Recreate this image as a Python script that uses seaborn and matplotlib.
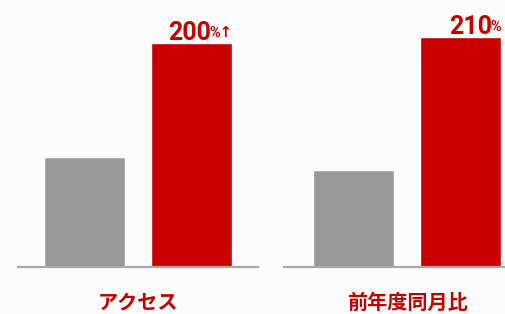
import matplotlib
matplotlib.use("Agg")
import matplotlib.pyplot as plt
import seaborn as sns
import pandas as pd

sns.set_style("white")
plt.rcParams['font.family'] = ['Noto Sans CJK JP', 'DejaVu Sans']

# data (bar heights, arbitrary units)
bars = ["前", "今"]
access_values = [110, 224]
yoy_values = [97, 230]
panel_titles = ["アクセス", "前年度同月比"]
top_numbers = ["200", "210"]
top_suffixes = ["%↑", "%"]

RED = "#C80000"
GRAY = "#999999"
LINE = "#AAAAAA"
BG = "#FCFCFC"

W, H = 506, 314
fig = plt.figure(figsize=(W / 100, H / 100), dpi=100, facecolor=BG)

panels = [
    (18, 258, (-0.621, 1.621), access_values),
    (284, 506, (-0.65, 1.425), yoy_values),
]
base_y = 267

for i, (x0, x1, xl, vals) in enumerate(panels):
    ax = fig.add_axes([x0 / W, (H - base_y) / H, (x1 - x0) / W, base_y / H])
    ax.set_facecolor("none")
    df = pd.DataFrame({"bar": bars, "v": vals})
    sns.barplot(data=df, x="bar", y="v", hue="bar", palette=[GRAY, RED],
                width=0.757, legend=False, ax=ax, saturation=1)
    ax.set_xlim(*xl)
    ax.set_ylim(0, base_y)
    for s in ["top", "right", "left"]:
        ax.spines[s].set_visible(False)
    ax.spines["bottom"].set_color(LINE)
    ax.spines["bottom"].set_linewidth(1.6)
    ax.set_xticks([])
    ax.set_yticks([])
    ax.set_xlabel("")
    ax.set_ylabel("")
    red_right = 1 + 0.757 / 2
    t = ax.annotate(top_suffixes[i], xy=(red_right, vals[1]), xycoords="data",
                    xytext=(0, 4.5), textcoords="offset points",
                    ha="right", va="baseline", color=RED, fontsize=10.5,
                    fontweight="bold", family=["Roboto", "DejaVu Sans"])
    fig.canvas.draw()
    bb = t.get_window_extent()
    ax.annotate(top_numbers[i], xy=(bb.x0 + 1.5, bb.y0), xycoords="figure pixels",
                ha="right", va="baseline", color=RED, fontsize=18,
                fontweight="bold", family=["Roboto", "DejaVu Sans"],
                annotation_clip=False)
    ax.text(0.5, -35, panel_titles[i], ha="center", va="center",
            transform=ax.transData, color=RED, fontsize=14.5, fontweight="bold")

fig.savefig("out.png", dpi=100, facecolor=BG)
